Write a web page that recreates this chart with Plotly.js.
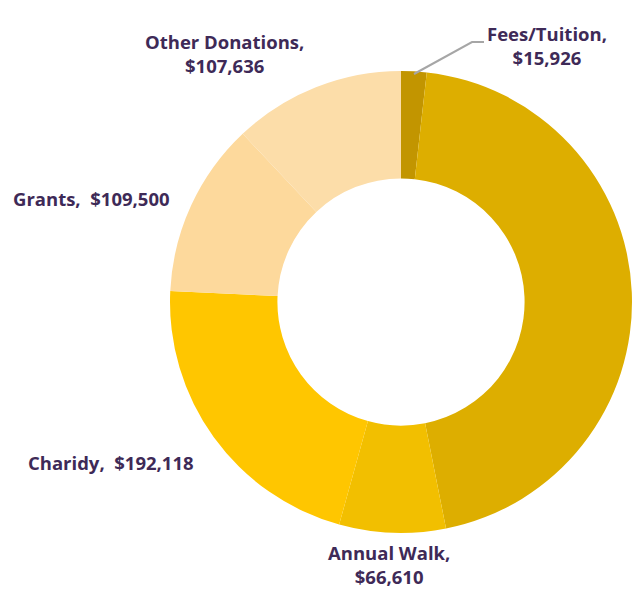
<!DOCTYPE html>
<html>
<head>
<meta charset="utf-8">
<script src="https://cdn.plot.ly/plotly-3.0.1.min.js"></script>
<style>html,body{margin:0;padding:0;background:#fff}#chart{width:633px;height:590px}</style>
</head>
<body>
<div id="chart"></div>
<script>
const categories = ["Fees/Tuition", "Program Revenue", "Annual Walk", "Charidy", "Grants", "Other Donations"];
const amounts = [15926, 404000, 66610, 192118, 109500, 107636];
const sliceColors = ["#C29500", "#DDAE00", "#F2BF00", "#FFC600", "#FDD99C", "#FCDDA9"];
const showLabel = [true, false, true, true, true, true];

const W = 633, H = 590;
const px = x => x / W, py = y => 1 - y / H;
const fmt = v => "$" + v.toLocaleString("en-US");

// label placements (pixel centres)
const labelPos = {
  "Fees/Tuition": {x: 547, y: 45, br: true},
  "Annual Walk": {x: 389, y: 564, br: true},
  "Charidy": {x: 111, y: 462, br: false},
  "Grants": {x: 91, y: 198, br: false},
  "Other Donations": {x: 224, y: 53, br: true}
};

const annotations = [];
categories.forEach((c, i) => {
  if (!showLabel[i]) return;
  const p = labelPos[c];
  annotations.push({
    xref: "paper", yref: "paper", x: px(p.x), y: py(p.y),
    xanchor: "center", yanchor: "middle", showarrow: false, align: "center",
    text: "<b>" + c + "," + (p.br ? "<br>" : "&nbsp;&nbsp;") + fmt(amounts[i]) + "</b>",
    font: {family: "'Open Sans', sans-serif", size: 18.5, color: "#3E2A57"}
  });
});

const data = [{
  type: "pie",
  labels: categories,
  values: amounts,
  sort: false,
  direction: "clockwise",
  rotation: 0,
  hole: 0.535,
  textinfo: "none",
  hoverinfo: "label+value",
  marker: {colors: sliceColors, line: {width: 0}},
  domain: {x: [px(170), px(632)], y: [py(533), py(71)]},
  showlegend: false
}];

const layout = {
  width: W, height: H,
  margin: {l: 0, r: 0, t: 0, b: 0},
  paper_bgcolor: "#fff",
  showlegend: false,
  annotations: annotations,
  shapes: [{
    type: "path", xref: "paper", yref: "paper",
    path: `M ${px(414)} ${py(74)} L ${px(472)} ${py(42)} L ${px(484)} ${py(42)}`,
    line: {color: "#A6A6A6", width: 2}
  }]
};

Plotly.newPlot("chart", data, layout, {displayModeBar: false, staticPlot: true});
</script>
</body>
</html>
